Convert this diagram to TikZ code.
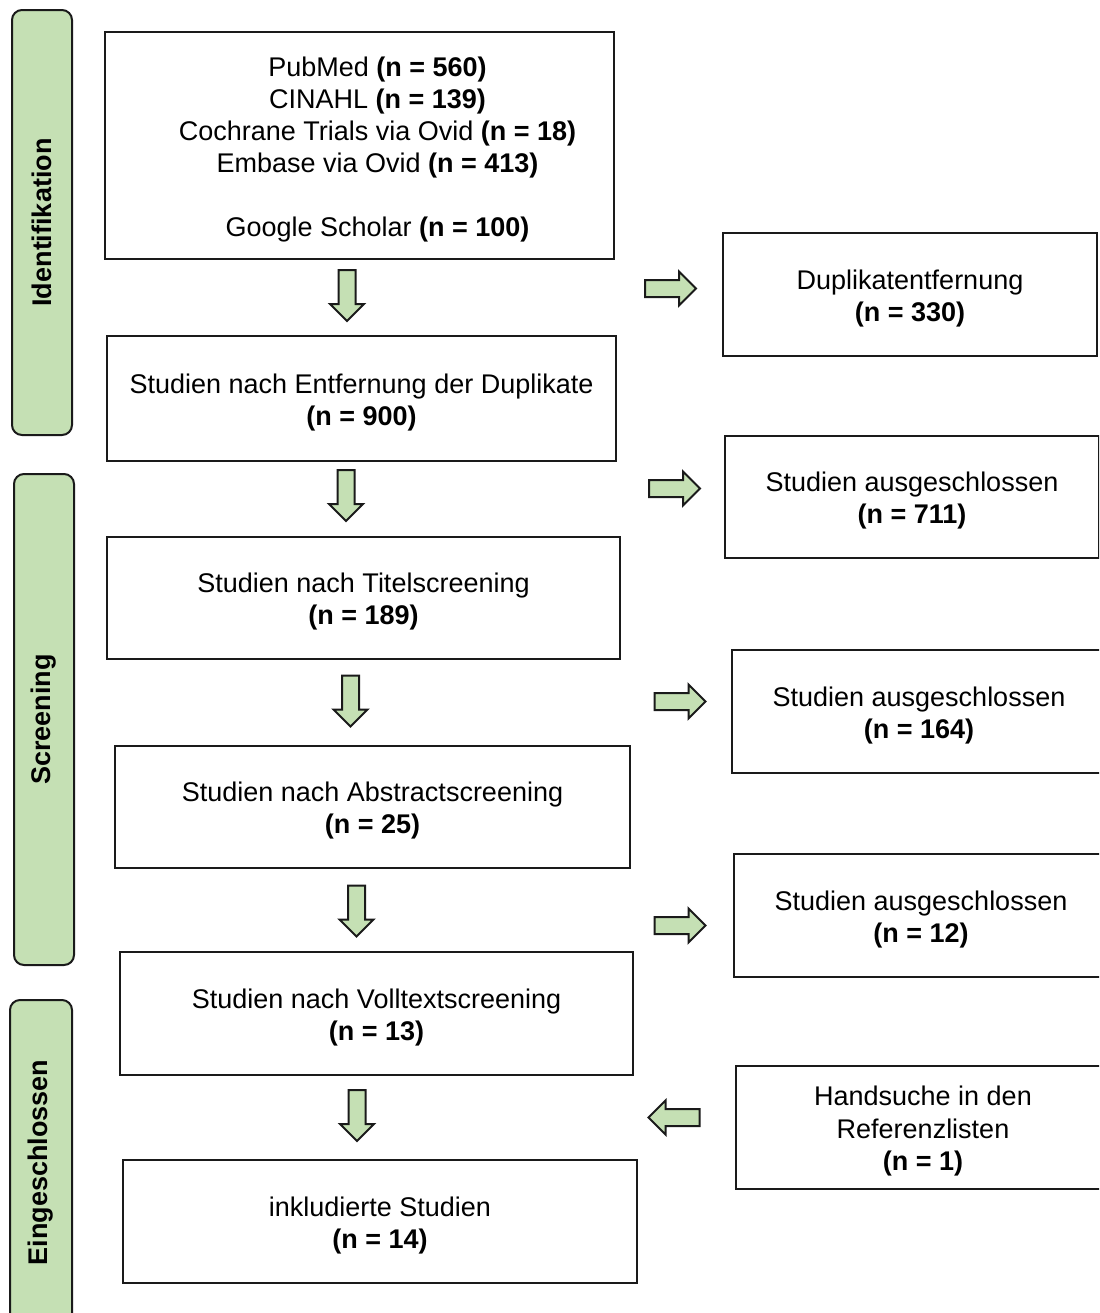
\documentclass[tikz,border=0pt]{standalone}
\usepackage{fontspec}
\setmainfont{Liberation Sans}
\definecolor{boxgreen}{HTML}{C5E0B4}
\definecolor{edge}{HTML}{1A1A1A}
\newcommand\tstrut{\rule{0pt}{13.5pt}}
\begin{document}
\begin{tikzpicture}[x=0.5pt,y=-0.5pt,
  box/.style={draw=edge, line width=1pt, fill=white, align=center, inner sep=0pt,
    font=\fontsize{13.5}{16.2}\selectfont},
  bar/.style={draw=edge, line width=1pt, fill=boxgreen, rounded corners=5pt, rotate=90,
    inner sep=0pt, font=\fontsize{13.5}{16.2}\selectfont\bfseries},
  blockarrow/.style={draw=edge, line width=1pt, fill=boxgreen, line join=miter},
  pics/barrow/.style={code={\draw[blockarrow] (-25.5,-8.5) -- (8.5,-8.5) -- (8.5,-17) -- (25.5,0) -- (8.5,17) -- (8.5,8.5) -- (-25.5,8.5) -- cycle;}}
]
\useasboundingbox (0,0) rectangle (1099,1313);
\clip (0,0) rectangle (1099,1313);

% phase bars
\node[bar, minimum width=212.5pt, minimum height=30pt] (phid) at (42,222.5) {Identifikation};
\node[bar, minimum width=245.5pt, minimum height=30pt] (phsc) at (44,719.5) {Screening};
\node[bar, minimum width=162.5pt, minimum height=31pt] (phin) at (41,1162.5) {Eingeschlossen};

% main column
\node[box, minimum width=254.5pt, minimum height=113.5pt] (src) at (359.5,145.5)
  {\fontsize{13.5}{16}\selectfont\begin{tabular}{@{\hspace{18pt}}c@{}}\rule{0pt}{16.2pt}PubMed \textbf{(n = 560)}\\ CINAHL \textbf{(n = 139)}\\ Cochrane Trials via Ovid \textbf{(n = 18)}\\ Embase via Ovid \textbf{(n = 413)}\\ \\ Google Scholar \textbf{(n = 100)}\end{tabular}};
\node[box, minimum width=254.5pt, minimum height=62.5pt] (dedup) at (361.5,398.5)
  {\tstrut Studien nach Entfernung der Duplikate\\\textbf{(n = 900)}};
\node[box, minimum width=256.5pt, minimum height=61pt] (title) at (363.5,598)
  {\tstrut Studien nach Titelscreening\\\textbf{(n = 189)}};
\node[box, minimum width=257.5pt, minimum height=61pt] (abstr) at (372.5,807)
  {\tstrut Studien nach Abstractscreening\\\textbf{(n = 25)}};
\node[box, minimum width=256.5pt, minimum height=61.5pt] (full) at (376.5,1013.5)
  {\tstrut Studien nach Volltextscreening\\\textbf{(n = 13)}};
\node[box, minimum width=257pt, minimum height=61.5pt] (incl) at (380,1221.5)
  {\tstrut inkludierte Studien\\\textbf{(n = 14)}};

% right column
\node[box, minimum width=187pt, minimum height=61.5pt] (dup) at (910,294.5)
  {\tstrut Duplikatentfernung\\\textbf{(n = 330)}};
\node[box, minimum width=187pt, minimum height=61pt] (ex1) at (912,497)
  {\tstrut Studien ausgeschlossen\\\textbf{(n = 711)}};
\node[box, minimum width=187pt, minimum height=61.5pt] (ex2) at (919,711.5)
  {\tstrut Studien ausgeschlossen\\\textbf{(n = 164)}};
\node[box, minimum width=187pt, minimum height=61.5pt] (ex3) at (921,915.5)
  {\tstrut Studien ausgeschlossen\\\textbf{(n = 12)}};
\node[box, minimum width=187pt, minimum height=61.5pt] (hand) at (923,1127.5)
  {\tstrut Handsuche in den\\Referenzlisten\\\textbf{(n = 1)}};

% block arrows
\pic[rotate=-90] at (347,295.5) {barrow};
\pic[rotate=-90] at (346,495.5) {barrow};
\pic[rotate=-90] at (350.5,701) {barrow};
\pic[rotate=-90] at (356.5,911) {barrow};
\pic[rotate=-90] at (357,1115.5) {barrow};
\pic at (670.5,288.5) {barrow};
\pic at (674.5,488.5) {barrow};
\pic at (680,701.5) {barrow};
\pic at (680,925.5) {barrow};
\pic[rotate=180] at (674,1117.5) {barrow};
\end{tikzpicture}
\end{document}
